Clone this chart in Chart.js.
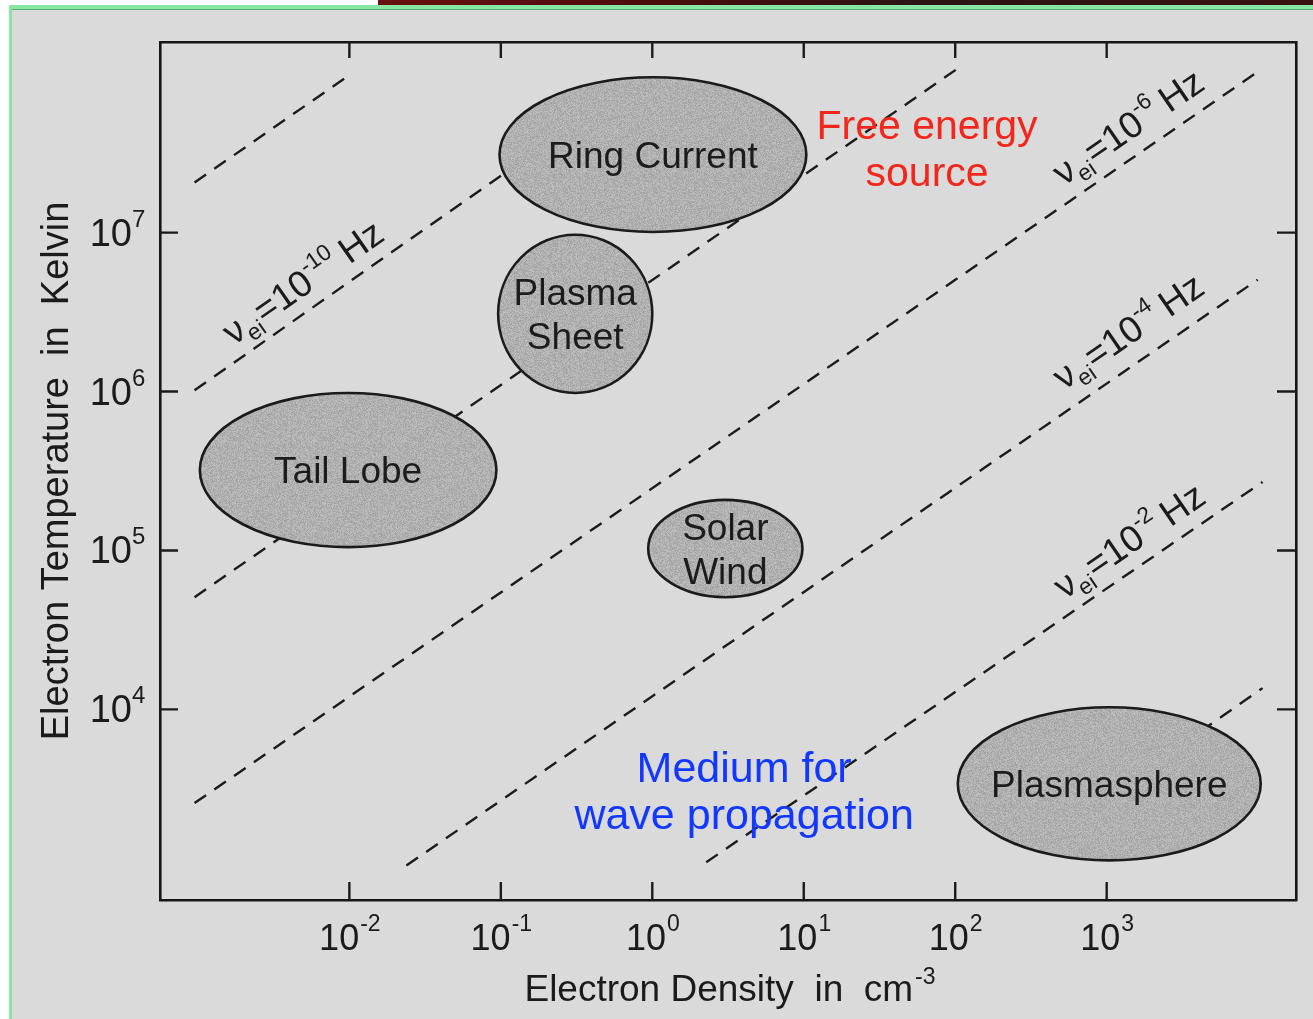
<!DOCTYPE html>
<html lang="en">
<head>
<meta charset="utf-8">
<title>Electron density vs. electron temperature of space plasmas</title>
<script src="https://cdn.jsdelivr.net/npm/chart.js@4.4.1/dist/chart.umd.min.js"></script>
<style>
  html, body { margin: 0; padding: 0; background: #dadada; }
  #page { position: relative; width: 1313px; height: 1019px; overflow: hidden; background: #dadada; }
  #chart { position: absolute; left: 0; top: 0; }
  #topband { position: absolute; left: 0; top: 0; width: 1313px; height: 5px;
    background: linear-gradient(90deg, #ffffff 0 378px, #6a1010 378px, #4c0c0c 640px, #2c1414 920px, #3a1212 1313px); }
  #leftpad { position: absolute; left: 0; top: 5px; width: 9px; height: 1014px; background: #ffffff; }
  #edgeTop { position: absolute; left: 9px; top: 5px; width: 1304px; height: 4px; background: #86e6a2; border-bottom: 1px solid #52b06c; }
  #edgeLeft { position: absolute; left: 9px; top: 5px; width: 3px; height: 1014px; background: #86e6a2; }
</style>
</head>
<body>
<div id="page">
  <canvas id="chart" width="1313" height="1019"></canvas>
  <div id="topband"></div>
  <div id="leftpad"></div>
  <div id="edgeTop"></div>
  <div id="edgeLeft"></div>
</div>
<script>
// ---- axes (electron density in cm^-3, electron temperature in K) ----
const densityLimits = [5.62e-4, 1.778e4];        // 10^-3.25 … 10^4.25
const temperatureLimits = [631, 1.585e8];        // 10^2.8 … 10^8.2
const densityTicks = [1e-2, 1e-1, 1e0, 1e1, 1e2, 1e3];
const densityTickPowers = ['-2', '-1', '0', '1', '2', '3'];
const temperatureTicks = [1e4, 1e5, 1e6, 1e7];
const temperatureTickPowers = ['4', '5', '6', '7'];

// ---- lines of constant electron-ion collision frequency (two end points each) ----
const isolineDensity = [
  [9.5e-4, 1.03e-2],
  [9.5e-4, 0.62],
  [9.5e-4, 101],
  [9.5e-4, 1.04e4],
  [0.0238, 9.93e3],
  [2.27, 1.07e4],
  [3.08e3, 1.07e4]
];
const isolineTemperature = [
  [2.07e7, 1.0e8],
  [1.02e6, 7.7e7],
  [5.08e4, 1.06e8],
  [2.57e3, 1.06e8],
  [1.04e3, 5.06e6],
  [1.09e3, 2.7e5],
  [5.94e3, 1.36e4]
];
// which isolines carry a "ν_ei = 10^k Hz" label, and k
const labelledIsolines = [1, 3, 4, 5];
const isolinePowers = ['-10', '-6', '-4', '-2'];

// ---- plasma regions (density range, temperature range) ----
const regionNames = [['Ring Current'], ['Plasma', 'Sheet'], ['Tail Lobe'], ['Solar', 'Wind'], ['Plasmasphere']];
const regionDensity = [[0.098, 10.4], [0.096, 1.0], [1.03e-3, 0.0935], [0.94, 9.8], [104, 1.04e4]];
const regionTemperature = [[1.01e7, 9.5e7], [9.8e5, 9.7e6], [1.05e5, 9.8e5], [5.08e4, 2.08e5], [1.12e3, 1.03e4]];

// ---- placement of the text that sits inside the plot (density, temperature) ----
const isolineLabelAt = [[4.91e-3, 4.91e6], [1380, 4.66e7], [1380, 2.41e6], [1400, 1.16e5]];
const calloutText = [['Free energy', 'source'], ['Medium for', 'wave propagation']];
const calloutAt = [[65.2, 3.91e7], [4.04, 3.47e3]];
const calloutColor = ['#f3261c', '#1238ff'];

const FONT = '"Liberation Sans", Arial, Helvetica, sans-serif';
const INK = '#1b1b1b';

// Screen-tone texture used to fill the regions
function screenTone(ctx) {
  const size = 90;
  const c = document.createElement('canvas');
  c.width = c.height = size;
  const g = c.getContext('2d');
  const img = g.createImageData(size, size);
  let s = 7;
  for (let i = 0; i < size * size; i++) {
    s = (s * 16807) % 2147483647;
    const v = 176 + (s % 33) - 16;
    img.data[i * 4] = img.data[i * 4 + 1] = img.data[i * 4 + 2] = v;
    img.data[i * 4 + 3] = 255;
  }
  g.putImageData(img, 0, 0);
  return ctx.createPattern(c, 'repeat');
}

function partsWidth(ctx, parts) {
  let w = 0;
  for (const p of parts) {
    ctx.font = `${p.size}px ${FONT}`;
    w += ctx.measureText(p.text).width + (p.gap || 0);
  }
  return w;
}
function drawParts(ctx, parts, x, y) {
  let cx = x;
  for (const p of parts) {
    ctx.font = `${p.size}px ${FONT}`;
    ctx.fillText(p.text, cx + (p.pre || 0), y - (p.rise || 0));
    cx += ctx.measureText(p.text).width + (p.gap || 0);
  }
}

const overlay = {
  id: 'overlay',
  afterDatasetsDraw(chart) {
    const ctx = chart.ctx;
    const xs = chart.scales.x, ys = chart.scales.y;
    const area = chart.chartArea;
    const tone = screenTone(ctx);
    ctx.save();
    ctx.textAlign = 'left';
    ctx.textBaseline = 'alphabetic';

    // regions
    regionDensity.forEach((nr, i) => {
      const tr = regionTemperature[i];
      const x0 = xs.getPixelForValue(nr[0]), x1 = xs.getPixelForValue(nr[1]);
      const y0 = ys.getPixelForValue(tr[1]), y1 = ys.getPixelForValue(tr[0]);
      const cx = (x0 + x1) / 2, cy = (y0 + y1) / 2;
      ctx.beginPath();
      ctx.ellipse(cx, cy, (x1 - x0) / 2, (y1 - y0) / 2, 0, 0, Math.PI * 2);
      ctx.fillStyle = tone;
      ctx.fill();
      ctx.lineWidth = 2.6;
      ctx.strokeStyle = INK;
      ctx.stroke();
      ctx.fillStyle = '#1c1c1c';
      ctx.font = `37px ${FONT}`;
      ctx.textAlign = 'center';
      const lines = regionNames[i];
      lines.forEach((t, k) => ctx.fillText(t, cx, cy + 13 + (k - (lines.length - 1) / 2) * 44));
      ctx.textAlign = 'left';
    });

    // collision-frequency labels, written along their lines
    ctx.fillStyle = INK;
    labelledIsolines.forEach((li, j) => {
      const d = isolineDensity[li], t = isolineTemperature[li];
      const ax = xs.getPixelForValue(d[0]), ay = ys.getPixelForValue(t[0]);
      const bx = xs.getPixelForValue(d[1]), by = ys.getPixelForValue(t[1]);
      const ang = Math.atan2(by - ay, bx - ax);
      const px = xs.getPixelForValue(isolineLabelAt[j][0]);
      const py = ys.getPixelForValue(isolineLabelAt[j][1]);
      const parts = [
        { text: 'ν', size: 37 },
        { text: 'ei', size: 23, rise: -8, gap: 1 },
        { text: '=10', size: 37 },
        { text: '-' + isolinePowers[j].slice(1), size: 23, rise: 17, gap: 8 },
        { text: 'Hz', size: 37 }
      ];
      const w = partsWidth(ctx, parts);
      ctx.save();
      ctx.translate(px, py);
      ctx.rotate(ang);
      drawParts(ctx, parts, -w / 2, 13);
      ctx.restore();
    });

    // coloured call-outs
    ctx.textAlign = 'center';
    calloutText.forEach((lines, i) => {
      const cx = xs.getPixelForValue(calloutAt[i][0]);
      const cy = ys.getPixelForValue(calloutAt[i][1]);
      ctx.fillStyle = calloutColor[i];
      ctx.font = `${i === 0 ? 41 : 43}px ${FONT}`;
      lines.forEach((t, k) => ctx.fillText(t, cx, cy + k * 47));
    });
    ctx.textAlign = 'left';

    // inward tick marks on all four sides
    ctx.strokeStyle = INK;
    ctx.lineWidth = 2.4;
    ctx.beginPath();
    densityTicks.forEach(v => {
      const x = xs.getPixelForValue(v);
      ctx.moveTo(x, area.bottom); ctx.lineTo(x, area.bottom - 18);
      ctx.moveTo(x, area.top); ctx.lineTo(x, area.top + 16);
    });
    temperatureTicks.forEach(v => {
      const y = ys.getPixelForValue(v);
      ctx.moveTo(area.left, y); ctx.lineTo(area.left + 18, y);
      ctx.moveTo(area.right, y); ctx.lineTo(area.right - 19, y);
    });
    ctx.stroke();

    // tick labels: powers of ten
    ctx.fillStyle = INK;
    temperatureTicks.forEach((v, i) => {
      const y = ys.getPixelForValue(v);
      ctx.font = `38px ${FONT}`;
      const wb = ctx.measureText('10').width;
      drawParts(ctx, [{ text: '10', size: 38 }, { text: temperatureTickPowers[i], size: 24, rise: 19 }], area.left - 28 - wb, y + 13);
    });
    densityTicks.forEach((v, i) => {
      const x = xs.getPixelForValue(v);
      const parts = [{ text: '10', size: 36 }, { text: densityTickPowers[i], size: 23, rise: 19, pre: 1 }];
      const w = partsWidth(ctx, parts);
      drawParts(ctx, parts, x - w / 2, area.bottom + 50);
    });

    // axis titles
    const xt = [{ text: 'Electron Density  in  cm', size: 37 }, { text: '-3', size: 23, rise: 17, pre: 2 }];
    const wx = partsWidth(ctx, xt);
    drawParts(ctx, xt, 729 - wx / 2, area.bottom + 101);

    ctx.save();
    ctx.translate(68, 471);
    ctx.rotate(-Math.PI / 2);
    ctx.font = `38px ${FONT}`;
    ctx.textAlign = 'center';
    ctx.fillText('Electron Temperature  in  Kelvin', 0, 0);
    ctx.restore();

    ctx.restore();
  }
};

const datasets = isolineDensity.map((dens, i) => ({
  data: dens.map((n, k) => ({ x: n, y: isolineTemperature[i][k] })),
  showLine: true,
  borderColor: INK,
  borderWidth: 2.4,
  borderDash: [14, 10],
  pointRadius: 0,
  fill: false
}));

function logAxis(position, limits) {
  return {
    type: 'logarithmic',
    position,
    min: limits[0],
    max: limits[1],
    ticks: { display: false },
    grid: { display: false, drawTicks: false },
    border: { display: true, color: '#161616', width: 2.6 }
  };
}

new Chart(document.getElementById('chart'), {
  type: 'scatter',
  data: { datasets },
  options: {
    responsive: false,
    devicePixelRatio: 1,
    animation: false,
    events: [],
    layout: { padding: { left: 160, right: 17, top: 42, bottom: 119 } },
    plugins: { legend: { display: false }, tooltip: { enabled: false } },
    scales: {
      x: logAxis('bottom', densityLimits),
      x2: Object.assign(logAxis('top', densityLimits), { axis: 'x' }),
      y: logAxis('left', temperatureLimits),
      y2: Object.assign(logAxis('right', temperatureLimits), { axis: 'y' })
    }
  },
  plugins: [overlay]
});
</script>
</body>
</html>
